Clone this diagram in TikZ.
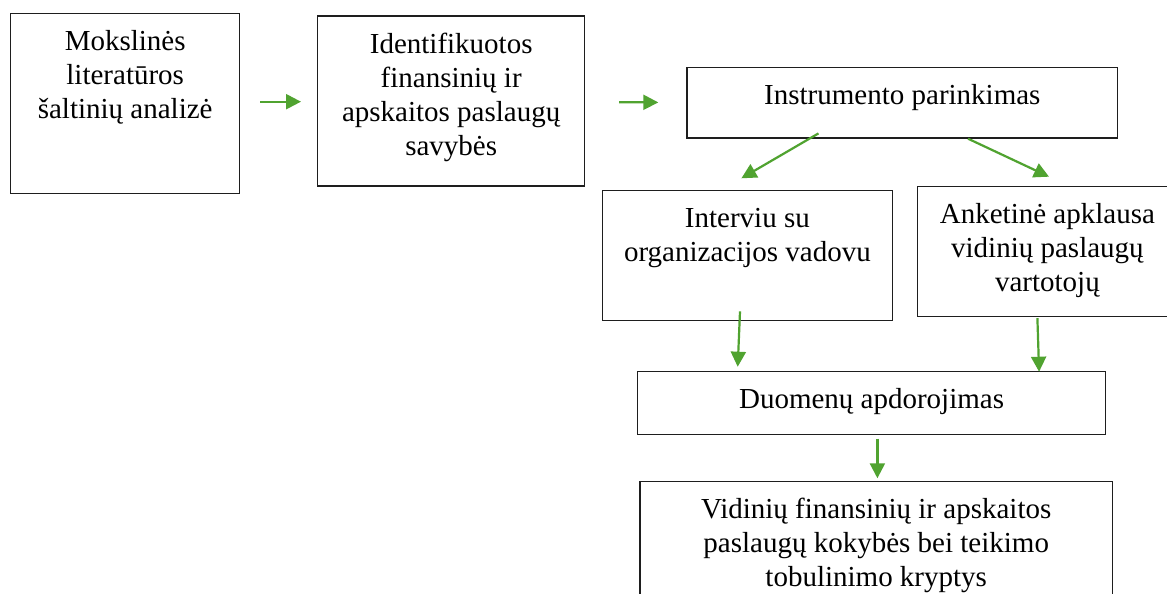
\documentclass[tikz,border=0pt]{standalone}
\usepackage{fontspec}
\setmainfont{Liberation Serif}
\usetikzlibrary{arrows.meta,calc}
\definecolor{arrgreen}{RGB}{80,163,48}
\definecolor{boxline}{RGB}{30,30,30}
\newcommand{\boxtext}[3]{\parbox[c][#2][t]{#1}{\centering\rule{0pt}{37pt}#3}}
\begin{document}
\begin{tikzpicture}[x=1pt,y=-1pt,
  stepbox/.style={draw=boxline, line width=1.4pt, inner sep=0pt, anchor=north west, fill=white,
    font=\fontsize{29pt}{34pt}\selectfont},
  arr/.style={draw=arrgreen, line width=2.2pt, -{Triangle[length=15pt,width=15pt]}}]
\useasboundingbox (0,0) rectangle (1167,594);
\clip (0,0) rectangle (1167,594);
\fill[white] (0,0) rectangle (1167,594);

\node[stepbox] (b1) at (10,13) {\boxtext{229pt}{179.5pt}{Mokslinės\\literatūros\\šaltinių analizė}};
\node[stepbox] (b2) at (317,15.3) {\boxtext{267pt}{170pt}{Identifikuotos\\finansinių ir\\apskaitos paslaugų\\savybės}};
\node[stepbox] (b3) at (686.3,66.7) {\boxtext{430.7pt}{70.6pt}{Instrumento parinkimas}};
\node[stepbox] (b4) at (601.7,190) {\boxtext{290pt}{130pt}{Interviu su\\organizacijos vadovu}};
\node[stepbox] (b5) at (916.7,186) {\boxtext{260pt}{130pt}{Anketinė apklausa\\vidinių paslaugų\\vartotojų}};
\node[stepbox] (b6) at (636.7,370.7) {\boxtext{468.3pt}{63.3pt}{Duomenų apdorojimas}};
\node[stepbox] (b7) at (639.3,480.7) {\boxtext{472.4pt}{140pt}{Vidinių finansinių ir apskaitos\\paslaugų kokybės bei teikimo\\tobulinimo kryptys}};

\draw[arr] ($(b1.east)+(20,-1.75)$) -- ($(b2.west)+(-16,0.7)$);
\draw[arr] ($(b2.east)+(33.7,1.2)$) -- ($(b3.west)+(-28,-0.3)$);
\draw[arr] ($(b3.south)+(-83.9,-5.3)$) -- ($(b4.north)+(-6,-11.7)$);
\draw[arr] ($(b3.south)+(65.7,0)$) -- ($(b5.north)+(1.6,-9.3)$);
\draw[arr] ($(b4.south)+(-7.4,-10)$) -- ($(b6.north west)+(101,-4)$);
\draw[arr] ($(b5.south)+(-10,0.7)$) -- ($(b6.north east)+(-67.3,1)$);
\draw[arr] ($(b6.south)+(5.85,3.3)$) -- ($(b7.north)+(1.2,-2.4)$);
\end{tikzpicture}
\end{document}
